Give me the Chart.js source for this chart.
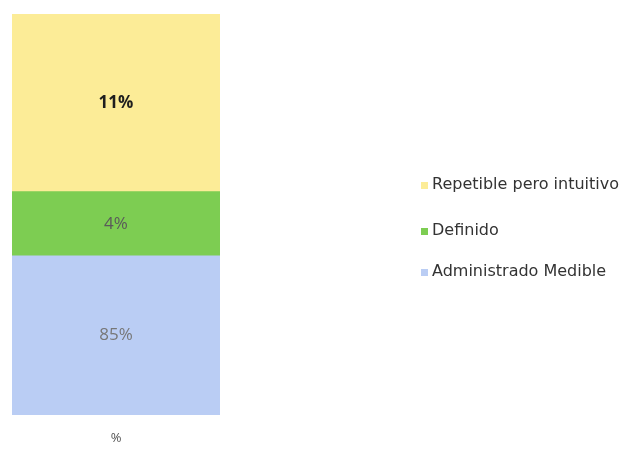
<!DOCTYPE html>
<html>
<head>
<meta charset="utf-8">
<script src="https://cdn.jsdelivr.net/npm/chart.js@4.4.1/dist/chart.umd.min.js"></script>
<style>
  html, body { margin: 0; padding: 0; background: #fff; }
  #wrap { position: relative; width: 631px; height: 449px; }
  #legend { position: absolute; left: 421px; top: 0; font-family: "DejaVu Sans", sans-serif; font-size: 16px; color: #333; }
  #legend .item { position: absolute; left: 0; white-space: nowrap; display: flex; align-items: center; }
  #legend .box { width: 7px; height: 7px; margin-right: 4px; margin-top: 5px; }
</style>
</head>
<body>
<div id="wrap">
  <canvas id="chart" width="631" height="449"></canvas>
  <div id="legend"></div>
</div>
<script>
// ─── Data ───
const categories = ['%'];
const seriesNames = ['Administrado Medible', 'Definido', 'Repetible pero intuitivo'];
const administradoValues = [39.7];
const definidoValues = [16];
const repetibleValues = [44.3];
const segmentLabels = ['85%', '4%', '11%'];

// ─── Style ───
const COLORS = {
  administrado: '#bacdf4',
  definido:     '#7dcd52',
  repetible:    '#fcec97',
};
const LABEL_COLORS = ['#777777', '#5a5a5a', '#1e1e1e'];
const LEGEND_Y = [183, 229, 270]; // top-down: repetible, definido, administrado

// Writes the percent text in the middle of each segment
const segmentText = {
  id: 'segmentText',
  afterDatasetsDraw(chart) {
    const ctx = chart.ctx;
    ctx.save();
    ctx.textAlign = 'center';
    ctx.textBaseline = 'middle';
    chart.data.datasets.forEach((ds, i) => {
      const meta = chart.getDatasetMeta(i);
      meta.data.forEach(bar => {
        const { x, y, base } = bar.getProps(['x', 'y', 'base'], true);
        ctx.font = (i === 2 ? 'bold ' : '') + '17px "Open Sans", sans-serif';
        ctx.fillStyle = LABEL_COLORS[i];
        ctx.fillText(segmentLabels[i], x, (y + base) / 2);
      });
    });
    ctx.restore();
  },
};

const chart = new Chart(document.getElementById('chart'), {
  type: 'bar',
  data: {
    labels: categories,
    datasets: [
      { label: seriesNames[0], data: administradoValues, backgroundColor: COLORS.administrado },
      { label: seriesNames[1], data: definidoValues, backgroundColor: COLORS.definido },
      { label: seriesNames[2], data: repetibleValues, backgroundColor: COLORS.repetible },
    ],
  },
  options: {
    responsive: false,
    animation: false,
    layout: { padding: { left: 12, right: 411, top: 14, bottom: 0 } },
    datasets: { bar: { barPercentage: 1, categoryPercentage: 1 } },
    plugins: { legend: { display: false }, tooltip: { enabled: false } },
    scales: {
      x: {
        stacked: true,
        grid: { display: false, drawTicks: false },
        border: { display: false },
        ticks: { color: '#555', padding: 15, font: { family: 'Open Sans', size: 13 } },
        afterFit(scale) { scale.height = 34; },
      },
      y: { stacked: true, display: false, min: 0, max: 100 },
    },
  },
  plugins: [segmentText],
});

// ─── HTML legend (reverse order, top segment first) ───
const legendEl = document.getElementById('legend');
const legendOrder = [2, 1, 0];
legendOrder.forEach((dsIndex, row) => {
  const ds = chart.data.datasets[dsIndex];
  const item = document.createElement('div');
  item.className = 'item';
  item.style.top = (LEGEND_Y[row] - 10) + 'px';
  item.style.height = '20px';
  const box = document.createElement('span');
  box.className = 'box';
  box.style.background = ds.backgroundColor;
  const text = document.createElement('span');
  text.textContent = ds.label;
  item.appendChild(box);
  item.appendChild(text);
  legendEl.appendChild(item);
});
</script>
</body>
</html>
